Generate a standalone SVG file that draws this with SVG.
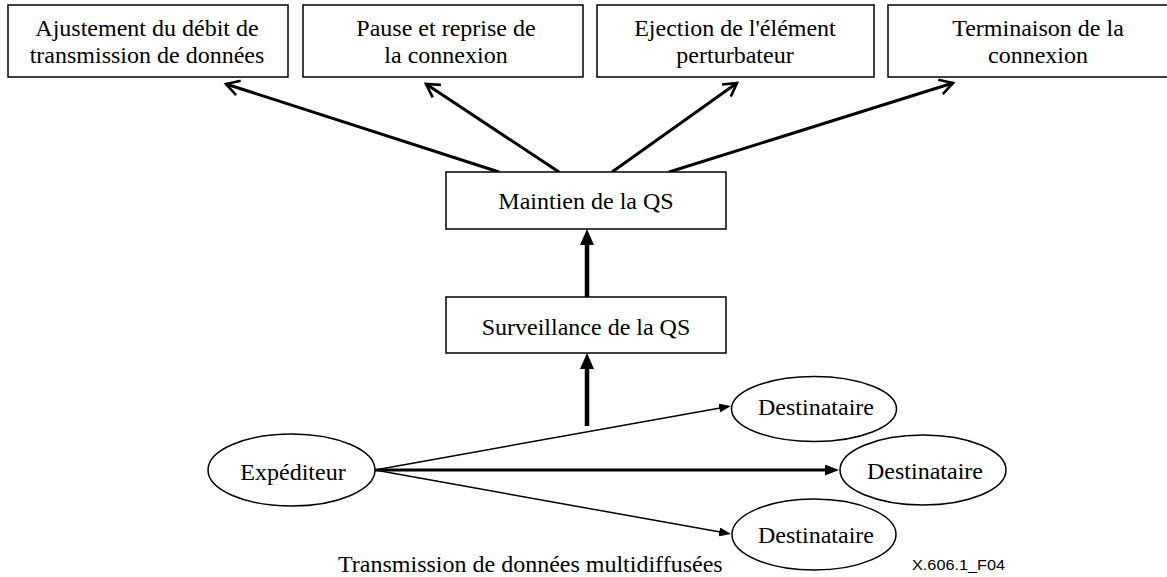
<svg xmlns="http://www.w3.org/2000/svg" width="1167" height="577" viewBox="0 0 1167 577">
<style>
  .box { fill: #fff; stroke: #000; stroke-width: 1.5; }
  .ell { fill: #fff; stroke: #000; stroke-width: 1.5; }
  .t { font-family: "Liberation Serif", "Times New Roman", serif; font-size: 24px; fill: #000; text-anchor: middle; }
  .lbl { font-family: "Liberation Sans", Arial, sans-serif; font-size: 14px; fill: #000; }
  .thick { stroke: #000; stroke-width: 3; fill: none; }
  .vert { stroke: #000; stroke-width: 4.5; fill: none; }
  .thin { stroke: #000; stroke-width: 1.5; fill: none; }
</style>
<defs>
  <marker id="open" markerUnits="userSpaceOnUse" viewBox="0 0 18 18" markerWidth="18" markerHeight="18" refX="15" refY="9" orient="auto">
    <path d="M2,1.5 L15,9 L2,16.5" fill="none" stroke="#000" stroke-width="2.6" stroke-linejoin="miter"/>
  </marker>
  <marker id="triV" markerUnits="userSpaceOnUse" viewBox="0 0 16 14" markerWidth="16" markerHeight="14" refX="1" refY="7" orient="auto">
    <path d="M0,0 L16,7 L0,14 z" fill="#000"/>
  </marker>
  <marker id="tri" markerUnits="userSpaceOnUse" viewBox="0 0 12 9" markerWidth="12" markerHeight="9" refX="1" refY="4.5" orient="auto">
    <path d="M0,0 L12,4.5 L0,9 z" fill="#000"/>
  </marker>
  <marker id="triB" markerUnits="userSpaceOnUse" viewBox="0 0 14 11" markerWidth="14" markerHeight="11" refX="1" refY="5.5" orient="auto">
    <path d="M0,0 L14,5.5 L0,11 z" fill="#000"/>
  </marker>
</defs>

<g id="connectors">
  <line class="thick" x1="499" y1="172" x2="226" y2="84" marker-end="url(#open)"/>
  <line class="thick" x1="559" y1="172" x2="426" y2="84" marker-end="url(#open)"/>
  <line class="thick" x1="612" y1="172" x2="737" y2="83" marker-end="url(#open)"/>
  <line class="thick" x1="669" y1="172" x2="953" y2="83" marker-end="url(#open)"/>
  <line class="vert" x1="587" y1="297" x2="587" y2="244" marker-end="url(#triV)"/>
  <line class="vert" x1="587" y1="426" x2="587" y2="368" marker-end="url(#triV)"/>
  <line class="thin" x1="375" y1="470" x2="720.2" y2="407.9" marker-end="url(#tri)"/>
  <line class="thick" x1="375" y1="470" x2="826" y2="470" marker-end="url(#triB)"/>
  <line class="thin" x1="375" y1="470" x2="720.2" y2="532.1" marker-end="url(#tri)"/>
</g>

<g id="n-ajustement">
  <rect class="box" x="8" y="5" width="280" height="72"/>
  <text class="t" x="147" y="36">Ajustement du débit de</text>
  <text class="t" x="147" y="63">transmission de données</text>
</g>
<g id="n-pause">
  <rect class="box" x="303" y="5" width="280" height="72"/>
  <text class="t" x="446" y="36">Pause et reprise de</text>
  <text class="t" x="446" y="63">la connexion</text>
</g>
<g id="n-ejection">
  <rect class="box" x="597" y="5" width="277" height="72"/>
  <text class="t" x="735" y="36">Ejection de l'élément</text>
  <text class="t" x="735" y="63">perturbateur</text>
</g>
<g id="n-terminaison">
  <rect class="box" x="888" y="5" width="300" height="72"/>
  <text class="t" x="1038" y="36">Terminaison de la</text>
  <text class="t" x="1038" y="63">connexion</text>
</g>
<g id="n-maintien">
  <rect class="box" x="446" y="172" width="280" height="57"/>
  <text class="t" x="586" y="209">Maintien de la QS</text>
</g>
<g id="n-surveillance">
  <rect class="box" x="446" y="297" width="280" height="56"/>
  <text class="t" x="586" y="335">Surveillance de la QS</text>
</g>
<g id="n-expediteur">
  <ellipse class="ell" cx="291.5" cy="470" rx="83.5" ry="36"/>
  <text class="t" x="293" y="480">Expéditeur</text>
</g>
<g id="n-dest1">
  <ellipse class="ell" cx="814" cy="409" rx="82.5" ry="32.5"/>
  <text class="t" x="816" y="415">Destinataire</text>
</g>
<g id="n-dest2">
  <ellipse class="ell" cx="923" cy="470" rx="83" ry="35"/>
  <text class="t" x="925" y="479">Destinataire</text>
</g>
<g id="n-dest3">
  <ellipse class="ell" cx="814" cy="534.5" rx="82" ry="35.5"/>
  <text class="t" x="816" y="543">Destinataire</text>
</g>
<g id="captions">
  <text class="t" x="338" y="572" style="text-anchor:start">Transmission de données multidiffusées</text>
  <text class="lbl" x="912" y="570" textLength="93" lengthAdjust="spacingAndGlyphs">X.606.1_F04</text>
</g>
</svg>
